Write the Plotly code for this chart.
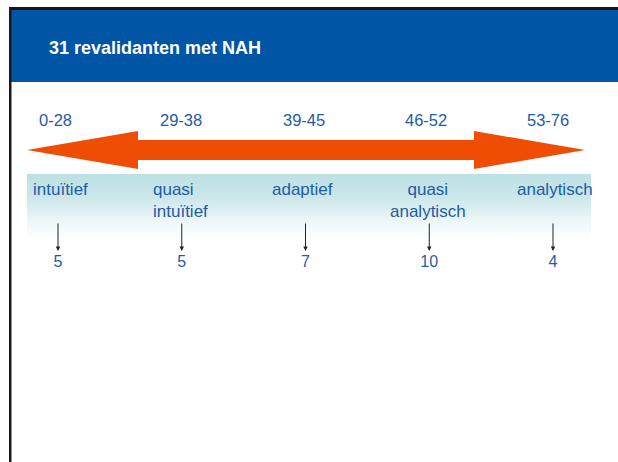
import plotly.graph_objects as go

# ---- data ----
score_ranges = ["0-28", "29-38", "39-45", "46-52", "53-76"]
categories = ["intuïtief", "quasi<br>intuïtief", "adaptief", "quasi<br>analytisch", "analytisch"]
counts = [5, 5, 7, 10, 4]
title_text = "31 revalidanten met NAH"

W, H = 618, 462
FONT = "Liberation Sans, Arial, sans-serif"
TXT = "#1F5BA6"
BLUE = "#0055A5"
ORANGE = "#EF4D03"

idx = list(range(len(categories)))

fig = go.Figure()

# decorative gradient band (pixel axis x2)
bx0, bx1, by0, by1 = 27, 591, 174, 240
fig.add_trace(go.Scatter(
    x=[bx0, bx1, bx1, bx0, bx0], y=[by0, by0, by1, by1, by0],
    xaxis="x2", yaxis="y", mode="lines", line=dict(width=0),
    fill="toself",
    fillgradient=dict(type="vertical", start=by0, stop=by1,
                      colorscale=[[0, "#BCE0E4"], [0.35, "#CBE7EA"],
                                  [0.7, "#EDF6F7"], [1, "#FFFFFF"]]),
    hoverinfo="skip", showlegend=False))

# double-headed arrow
ax_ = [27, 138, 138, 474, 474, 585, 474, 474, 138, 138, 27]
ay_ = [150, 131, 140, 140, 131, 150, 169, 160, 160, 169, 150]
fig.add_trace(go.Scatter(
    x=ax_, y=ay_, xaxis="x2", yaxis="y", mode="lines", line=dict(width=0),
    fill="toself", fillcolor=ORANGE, hoverinfo="skip", showlegend=False))

# counts
fig.add_trace(go.Scatter(
    x=idx, y=[263] * len(idx), mode="text", text=[str(c) for c in counts],
    textfont=dict(family=FONT, size=16, color=TXT), textposition="middle center",
    hoverinfo="skip", showlegend=False))

annotations = []
range_shift = [-3, -1, -2, -3, -5]
for i, r in enumerate(score_ranges):
    annotations.append(dict(x=i, y=120, xref="x", yref="y", text=r, showarrow=False,
                            xshift=range_shift[i],
                            font=dict(family=FONT, size=16.5, color=TXT)))

cat_anchor = ["center", "left", "center", "center", "center"]
cat_shift = [2, -31, -3, -1, 2]
for i, c in enumerate(categories):
    annotations.append(dict(x=i, y=178, xref="x", yref="y", text=c, showarrow=False,
                            xanchor=cat_anchor[i], yanchor="top", align=cat_anchor[i],
                            xshift=cat_shift[i],
                            font=dict(family=FONT, size=17, color=TXT)))

for i in idx:
    annotations.append(dict(x=i, y=251, ax=i, ay=222, xref="x", yref="y",
                            axref="x", ayref="y", text="", showarrow=True,
                            arrowhead=2, arrowsize=0.9, arrowwidth=1, arrowcolor="#222222"))

annotations.append(dict(x=47 / W, y=48, xref="paper", yref="y", text="<b>" + title_text + "</b>",
                        showarrow=False, xanchor="left", yanchor="middle",
                        font=dict(family=FONT, size=18, color="white")))

shapes = [
    dict(type="rect", xref="paper", yref="y", x0=11 / W, x1=1, y0=10, y1=82,
         fillcolor=BLUE, line=dict(width=0), layer="below"),
    dict(type="rect", xref="paper", yref="y", x0=9 / W, x1=1, y0=7, y1=10,
         fillcolor="#141414", line=dict(width=0), layer="above"),
    dict(type="rect", xref="paper", yref="y", x0=9 / W, x1=11.5 / W, y0=7, y1=H,
         fillcolor="#1a1a1a", line=dict(width=0), layer="above"),
]

fig.update_layout(
    width=W, height=H, margin=dict(l=0, r=0, t=0, b=0),
    paper_bgcolor="white", plot_bgcolor="white",
    xaxis=dict(range=[-58 / 123.75, (W - 58) / 123.75], visible=False, fixedrange=True),
    xaxis2=dict(range=[0, W], overlaying="x", anchor="y", visible=False, fixedrange=True),
    yaxis=dict(range=[H, 0], visible=False, fixedrange=True),
    annotations=annotations, shapes=shapes, showlegend=False,
)

fig.write_html("out.html", config={"displayModeBar": False},
               post_script="document.body.style.margin='0';document.body.style.overflow='hidden';")
